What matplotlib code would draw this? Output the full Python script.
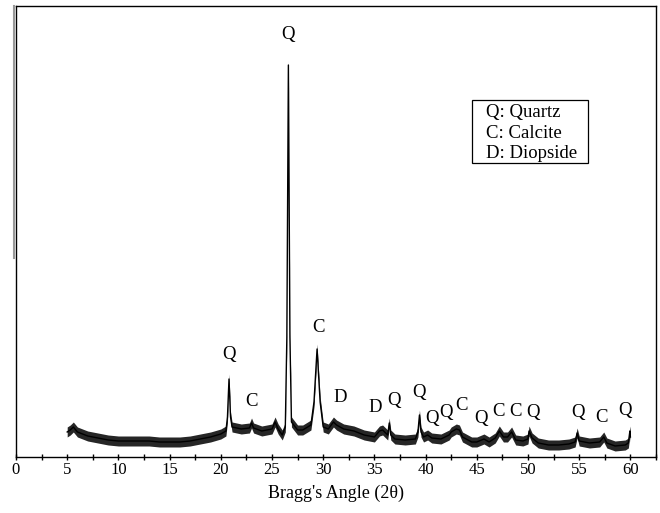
import numpy as np
import matplotlib
matplotlib.use("Agg")
from matplotlib import pyplot as plt
from matplotlib.lines import Line2D
from matplotlib.patches import Rectangle
from matplotlib.ticker import MultipleLocator

plt.rcParams['font.family'] = ['Liberation Serif', 'DejaVu Serif']

# trace: angle (2theta) and intensity (arb. units)
angle = [5.0, 5.3, 5.6, 6.0, 7.0, 8.0, 9.0, 10.0, 11.0, 12.0, 13.0, 14.0, 15.0, 16.0,
         17.0, 18.0, 19.0, 20.0, 20.5, 20.65, 20.8, 20.95, 21.1, 22.0, 22.8, 23.0, 23.2,
         24.0, 25.0, 25.3, 25.6, 26.0, 26.3, 26.45, 26.6, 26.75, 26.9, 27.5, 28.0, 28.8,
         29.1, 29.4, 29.7, 30.0, 30.5, 31.0, 31.3, 32.0, 33.0, 34.0, 35.0, 35.5, 35.8,
         36.1, 36.3, 36.45, 36.6, 37.0, 38.0, 39.0, 39.25, 39.4, 39.55, 39.8, 40.2, 40.6,
         41.5, 42.3, 42.5, 43.0, 43.3, 43.6, 44.5, 45.0, 45.7, 46.2, 46.8, 47.2, 47.6,
         48.0, 48.4, 48.8, 49.5, 50.0, 50.1, 50.4, 51.0, 52.0, 53.0, 54.0, 54.6, 54.8,
         55.0, 56.0, 57.0, 57.4, 57.7, 58.5, 59.5, 59.8, 59.95, 60.0]
intensity = [25, 27, 30, 25, 21, 19, 17, 16, 16, 16, 16, 15, 15, 15,
             16, 18, 20, 23, 26, 40, 78, 40, 30, 28, 29, 34, 29,
             26, 28, 35, 28, 22, 30, 120, 392, 120, 35, 27, 27, 32,
             55, 108, 55, 30, 28, 35, 32, 28, 26, 22, 20, 26, 27,
             24, 22, 34, 22, 18, 17, 18, 25, 42, 25, 20, 22, 19,
             18, 22, 25, 28, 27, 20, 15, 15, 18, 15, 19, 26, 20,
             20, 25, 17, 16, 18, 26, 19, 14, 12, 12, 13, 15, 24,
             16, 14, 15, 20, 14, 11, 12, 14, 26, 20]

# phase labels above the peaks
label_text = ['Q', 'C', 'Q', 'C', 'D', 'D', 'Q', 'Q', 'Q', 'Q', 'C', 'Q', 'C', 'C',
              'Q', 'Q', 'C', 'Q']
label_x = [26.6, 29.5, 20.8, 23.0, 31.7, 35.1, 36.9, 39.4, 40.6, 42.0, 43.5, 45.4,
           47.1, 48.8, 50.5, 54.9, 57.2, 59.5]
label_y = [423, 130, 102, 56, 60, 50, 56, 64, 39, 44, 51, 39, 45, 45, 45, 44, 39, 47]

legend_lines = ['Q: Quartz', 'C: Calcite', 'D: Diopside']

x = np.array(angle)
y = np.array(intensity)

fig = plt.figure(figsize=(6.6, 5.13), dpi=100)
ax = fig.add_axes([16 / 660, 56 / 513, 640 / 660, 451 / 513])

ax.fill_between(x, y - 5, y + 5, color='black', alpha=0.85, lw=0)
ax.plot(x, y, color='black', lw=1.0)

for t, lx, ly in zip(label_text, label_x, label_y):
    ax.text(lx, ly, t, fontsize=13.5, ha='center', va='center')

# legend box
ax.add_patch(Rectangle((44.5, 294), 11.4, 63, fill=False, ec='black', lw=0.9))
for i, line in enumerate(legend_lines):
    ax.text(45.85, 344 - 20 * i, line, fontsize=13.5, ha='left', va='center')

ax.set_xlim(0, 62.5)
ax.set_ylim(0, 451)
ax.xaxis.set_major_locator(MultipleLocator(5))
ax.xaxis.set_minor_locator(MultipleLocator(2.5))
ax.set_xticks([v for v in range(0, 61, 5)])
ax.tick_params(axis='x', which='both', direction='inout', length=5, width=1,
               labelsize=12, pad=1)
ax.set_yticks([])
for s in ax.spines.values():
    s.set_linewidth(1.0)
ax.set_xlabel("Bragg's Angle (2\u03b8)", fontsize=13, labelpad=5)

# grey scanning edge on the left
fig.add_artist(Line2D([13.5 / 660, 13.5 / 660], [1 - 6 / 513, 1 - 258 / 513],
                      color='#999999', lw=1.5, transform=fig.transFigure))

fig.savefig('out.png', dpi=100)
